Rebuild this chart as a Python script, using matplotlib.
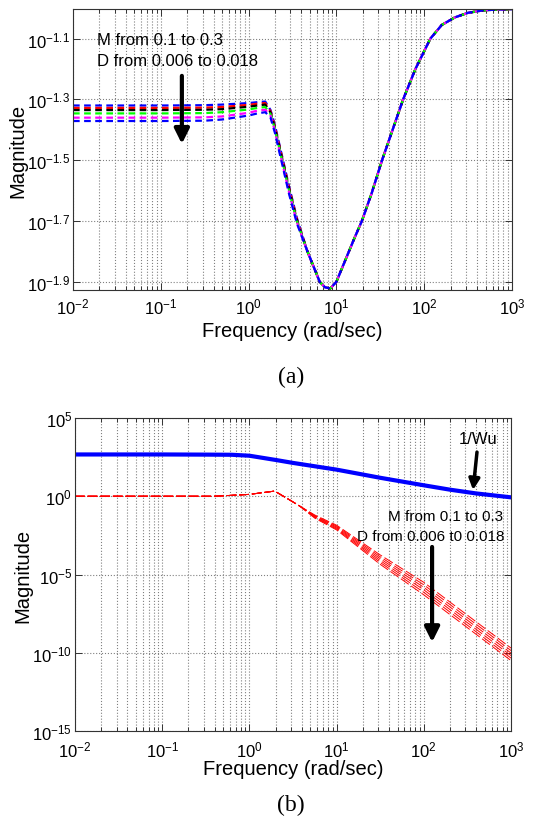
import numpy as np
import matplotlib
matplotlib.use("Agg")
import matplotlib.pyplot as plt
from matplotlib.ticker import LogLocator, NullLocator, FixedLocator, FixedFormatter, NullFormatter

plt.rcParams['font.family'] = ['Liberation Sans', 'DejaVu Sans']
plt.rcParams['mathtext.fontset'] = 'custom'
plt.rcParams['mathtext.rm'] = 'Liberation Sans'
plt.rcParams['mathtext.it'] = 'Liberation Sans:italic'
plt.rcParams['mathtext.bf'] = 'Liberation Sans:bold'

# ---------------- Panel (a) data: log10 frequency / log10 magnitude ----------------
a_head_logf = [-2, -1, -0.5, -0.3, 0, 0.1, 0.19, 0.25, 0.3, 0.38, 0.46, 0.55]
a_blue1 = [-1.320, -1.320, -1.319, -1.317, -1.312, -1.309, -1.307, -1.335, -1.385, -1.485, -1.585, -1.690]
a_red = [-1.328, -1.328, -1.327, -1.325, -1.318, -1.314, -1.312, -1.339, -1.389, -1.489, -1.589, -1.694]
a_black = [-1.335, -1.335, -1.334, -1.332, -1.324, -1.320, -1.317, -1.343, -1.393, -1.493, -1.593, -1.697]
a_green = [-1.346, -1.346, -1.345, -1.342, -1.333, -1.328, -1.325, -1.348, -1.398, -1.498, -1.598, -1.700]
a_magenta = [-1.360, -1.360, -1.359, -1.356, -1.344, -1.337, -1.334, -1.354, -1.404, -1.504, -1.604, -1.704]
a_blue2 = [-1.371, -1.371, -1.370, -1.366, -1.353, -1.346, -1.342, -1.360, -1.410, -1.510, -1.610, -1.708]
a_tail_logf = [0.67, 0.81, 0.87, 0.93, 1.0, 1.1, 1.2, 1.29, 1.4, 1.52, 1.64, 1.76,
               1.9, 2.07, 2.2, 2.35, 2.5, 2.67, 2.85, 3.0]
a_tail = [-1.80, -1.90, -1.918, -1.922, -1.90, -1.83, -1.76, -1.70, -1.61, -1.50, -1.40, -1.30,
          -1.20, -1.10, -1.055, -1.03, -1.015, -1.007, -1.004, -1.003]
a_colors = ['#0000ff', '#ff0000', '#000000', '#00ff00', '#ff00ff', '#0000ff']
a_series = [a_blue1, a_red, a_black, a_green, a_magenta, a_blue2]
a_yticks_exp = [-1.9, -1.7, -1.5, -1.3, -1.1]
a_ytick_labels = ['$10^{-1.9}$', '$10^{-1.7}$', '$10^{-1.5}$', '$10^{-1.3}$', '$10^{-1.1}$']

# ---------------- Panel (b) data ----------------
wu_logf = [-2, -1, -0.5, -0.2, 0, 0.3, 0.5, 1.0, 1.5, 2.0, 2.3, 2.6, 3.0]
wu_logm = [2.67, 2.67, 2.66, 2.65, 2.59, 2.32, 2.13, 1.70, 1.18, 0.70, 0.42, 0.18, -0.07]

b_head_logf = [-2, -1, -0.4, 0, 0.29, 0.49, 0.58]
b_head = [0.0, 0.0, 0.0, 0.12, 0.33, -0.33, -0.64]
b_tail_logf = [0.75, 1.0, 1.5, 2.0, 2.5, 3.0]
b_tail_1 = [-1.20, -1.85, -3.75, -5.50, -7.60, -9.70]
b_tail_2 = [-1.24, -1.91, -3.87, -5.66, -7.76, -9.86]
b_tail_3 = [-1.28, -1.97, -3.99, -5.82, -7.92, -10.02]
b_tail_4 = [-1.32, -2.03, -4.11, -5.98, -8.08, -10.18]
b_tail_5 = [-1.36, -2.09, -4.23, -6.14, -8.24, -10.34]
b_tail_6 = [-1.40, -2.15, -4.35, -6.30, -8.40, -10.50]
b_tails = [b_tail_1, b_tail_2, b_tail_3, b_tail_4, b_tail_5, b_tail_6]
b_yticks_exp = [-15, -10, -5, 0, 5]
b_ytick_labels = ['$10^{-15}$', '$10^{-10}$', '$10^{-5}$', '$10^{0}$', '$10^{5}$']

xticks_exp = [-2, -1, 0, 1, 2, 3]
xtick_labels = ['$10^{-2}$', '$10^{-1}$', '$10^{0}$', '$10^{1}$', '$10^{2}$', '$10^{3}$']

fig = plt.figure(figsize=(5.38, 8.29), dpi=100)
ax1 = fig.add_axes([73/538, 1-291/829, 439/538, 281/829])
ax2 = fig.add_axes([75/538, 1-732/829, 436/538, 313/829])


def style(ax, yt_exp, yt_lab, xpad, xlabelpad):
    ax.set_xscale('log')
    ax.set_yscale('log')
    ax.set_xlim(1e-2, 1e3)
    ax.xaxis.set_major_locator(FixedLocator([10.0**e for e in xticks_exp]))
    ax.xaxis.set_major_formatter(FixedFormatter(xtick_labels))
    ax.xaxis.set_minor_locator(LogLocator(base=10, subs=range(2, 10), numticks=50))
    ax.xaxis.set_minor_formatter(NullFormatter())
    ax.yaxis.set_major_locator(FixedLocator([10.0**e for e in yt_exp]))
    ax.yaxis.set_major_formatter(FixedFormatter(yt_lab))
    ax.yaxis.set_minor_locator(NullLocator())
    ax.tick_params(which='both', direction='in', top=True, right=True, width=0.7, color='#333333')
    ax.tick_params(which='major', length=5, labelsize=12)
    ax.tick_params(axis='y', which='major', pad=2)
    ax.tick_params(axis='x', which='major', pad=xpad)
    ax.tick_params(which='minor', length=3)
    ax.grid(True, which='major', axis='both', linestyle=':', color='#808080', linewidth=0.8)
    ax.grid(True, which='minor', axis='x', linestyle=':', color='#808080', linewidth=0.8)
    for s in ax.spines.values():
        s.set_linewidth(0.8)
        s.set_color('#333333')
    ax.set_xlabel('Frequency (rad/sec)', fontsize=14.5, labelpad=xlabelpad)
    ax.set_ylabel('Magnitude', fontsize=14.5, labelpad=0)


# ---- Panel (a)
style(ax1, a_yticks_exp, a_ytick_labels, xpad=5, xlabelpad=3)
for vals, col in zip(a_series, a_colors):
    lf = np.array(a_head_logf + a_tail_logf)
    lm = np.array(vals + a_tail)
    ax1.plot(10.0**lf, 10.0**lm, color=col, linewidth=1.6, linestyle=(0, (3, 2)))
ax1.set_ylim(10**-1.927, 10**-1.0025)

ax1.text(0.055, 0.893, 'M from 0.1 to 0.3', transform=ax1.transAxes, fontsize=12, va='center', ha='left')
ax1.text(0.055, 0.815, 'D from 0.006 to 0.018', transform=ax1.transAxes, fontsize=12, va='center', ha='left')
ax1.annotate('', xy=(0.248, 0.52), xytext=(0.248, 0.762), xycoords='axes fraction',
             arrowprops=dict(arrowstyle='-|>', color='k', lw=3, mutation_scale=22, shrinkA=0, shrinkB=0))

# ---- Panel (b)
style(ax2, b_yticks_exp, b_ytick_labels, xpad=6, xlabelpad=0)
ax2.plot(10.0**np.array(wu_logf), 10.0**np.array(wu_logm), color='#0000ff', linewidth=3)
for tail in b_tails:
    lf = np.array(b_head_logf + b_tail_logf)
    lm = np.array(b_head + tail)
    ax2.plot(10.0**lf, 10.0**lm, color='#ff0000', linewidth=0.7, linestyle=(0, (10, 3)))
ax2.set_ylim(1e-15, 1e5)

ax2.text(0.924, 0.936, '1/Wu', transform=ax2.transAxes, fontsize=12, va='center', ha='center')
ax2.annotate('', xy=(0.913, 0.770), xytext=(0.922, 0.891), xycoords='axes fraction',
             arrowprops=dict(arrowstyle='-|>', color='k', lw=2.5, mutation_scale=16, shrinkA=0, shrinkB=0))
ax2.text(0.982, 0.687, 'M from 0.1 to 0.3', transform=ax2.transAxes, fontsize=11, va='center', ha='right')
ax2.text(0.986, 0.623, 'D from 0.006 t0 0.018', transform=ax2.transAxes, fontsize=11, va='center', ha='right')
ax2.annotate('', xy=(0.819, 0.284), xytext=(0.819, 0.588), xycoords='axes fraction',
             arrowprops=dict(arrowstyle='-|>', color='k', lw=3, mutation_scale=22, shrinkA=0, shrinkB=0))

# captions
fig.text(291/538, 1-377/829, '(a)', fontsize=17, family='Liberation Serif', ha='center', va='center')
fig.text(291/538, 1-805/829, '(b)', fontsize=17, family='Liberation Serif', ha='center', va='center')

fig.savefig('out.png', dpi=100)
